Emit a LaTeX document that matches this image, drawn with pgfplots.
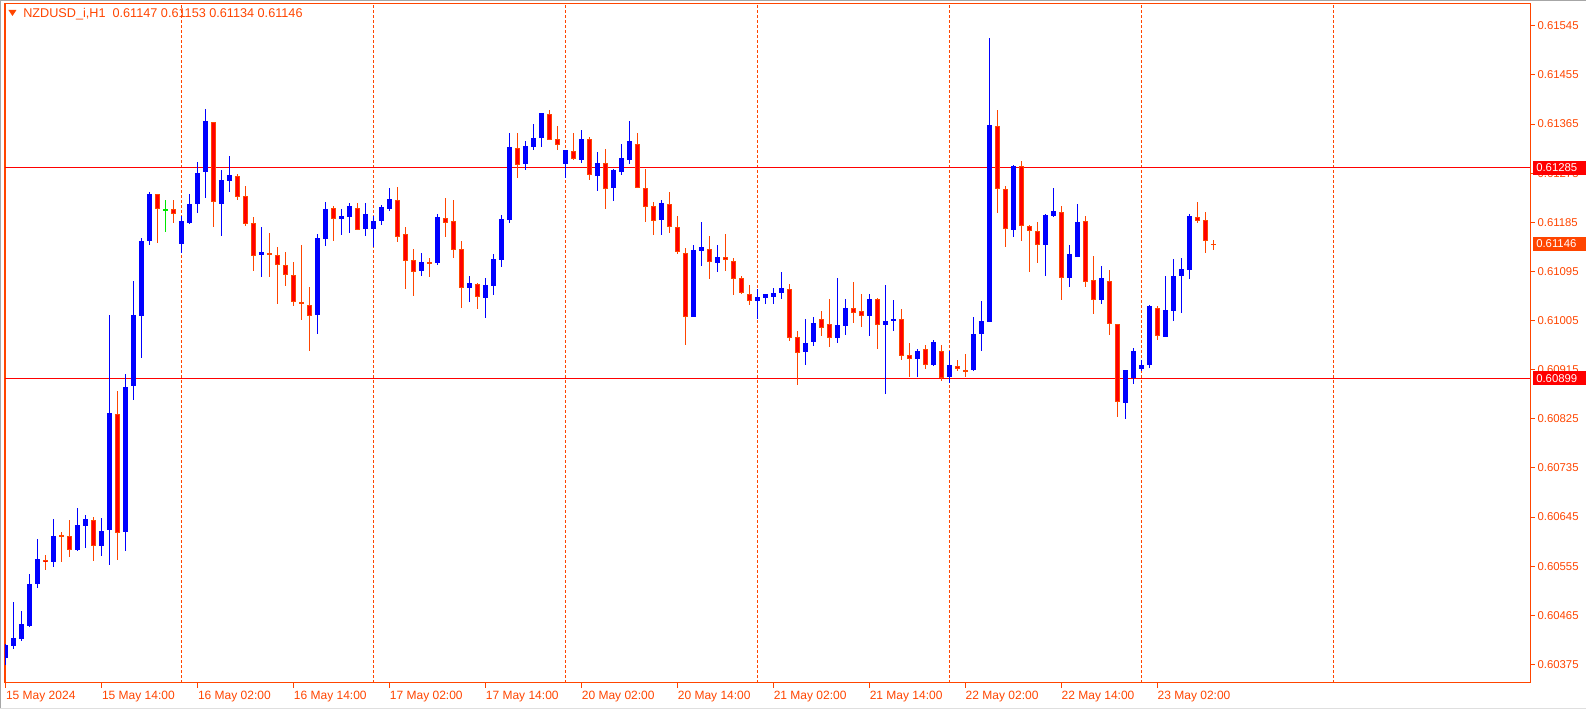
\documentclass[border=0pt]{standalone}
\usepackage{fontspec}
\setmainfont{Liberation Sans}
\usepackage{pgfplots}
\usepackage{pgfplotstable}
\pgfplotsset{compat=1.18}

\definecolor{orred}{RGB}{255,69,0}
\definecolor{bullc}{RGB}{0,0,255}
\definecolor{bearc}{RGB}{255,0,0}
\definecolor{dojic}{RGB}{0,230,0}

% hourly bars, i = hours since 15 May 02:00 (weekend removed)
\pgfplotstableread{
i O H L C
0 0.60387 0.60414 0.60374 0.60411
1 0.60409 0.60491 0.60404 0.60425
2 0.60422 0.60473 0.60417 0.60449
3 0.60446 0.60541 0.60444 0.60524
4 0.60523 0.60607 0.60516 0.60568
6 0.60564 0.60641 0.60554 0.60612
9 0.60586 0.60662 0.60582 0.60632
10 0.60629 0.60649 0.60589 0.60643
12 0.60593 0.60643 0.60574 0.60621
13 0.60622 0.61015 0.60558 0.60836
15 0.60618 0.60908 0.60585 0.60883
16 0.60886 0.61079 0.60860 0.61015
17 0.61014 0.61156 0.60937 0.61151
18 0.61151 0.61242 0.61144 0.61237
22 0.61146 0.61198 0.61130 0.61187
23 0.61184 0.61237 0.61183 0.61220
24 0.61219 0.61297 0.61203 0.61277
25 0.61278 0.61393 0.61230 0.61372
27 0.61219 0.61281 0.61159 0.61263
28 0.61261 0.61307 0.61241 0.61273
32 0.61126 0.61178 0.61087 0.61131
39 0.61015 0.61163 0.60981 0.61156
40 0.61155 0.61224 0.61142 0.61211
42 0.61192 0.61211 0.61164 0.61197
43 0.61195 0.61221 0.61166 0.61214
45 0.61173 0.61220 0.61159 0.61200
46 0.61173 0.61197 0.61140 0.61189
47 0.61188 0.61217 0.61181 0.61213
48 0.61210 0.61248 0.61206 0.61228
52 0.61096 0.61129 0.61087 0.61112
54 0.61111 0.61200 0.61106 0.61195
58 0.61065 0.61087 0.61040 0.61074
60 0.61047 0.61083 0.61009 0.61070
61 0.61069 0.61127 0.61052 0.61120
62 0.61118 0.61200 0.61104 0.61193
63 0.61190 0.61349 0.61184 0.61323
65 0.61292 0.61336 0.61283 0.61325
66 0.61324 0.61367 0.61319 0.61341
67 0.61340 0.61387 0.61324 0.61385
70 0.61291 0.61317 0.61266 0.61317
72 0.61300 0.61356 0.61294 0.61338
74 0.61270 0.61314 0.61243 0.61294
76 0.61247 0.61284 0.61225 0.61281
77 0.61278 0.61330 0.61274 0.61303
78 0.61300 0.61371 0.61292 0.61335
82 0.61190 0.61226 0.61162 0.61220
86 0.61013 0.61143 0.61013 0.61135
87 0.61134 0.61187 0.61106 0.61140
89 0.61112 0.61145 0.61096 0.61123
94 0.61041 0.61064 0.61009 0.61048
95 0.61047 0.61054 0.61036 0.61054
96 0.61050 0.61066 0.61036 0.61056
97 0.61056 0.61094 0.61045 0.61065
100 0.60948 0.61010 0.60925 0.60965
101 0.60966 0.61013 0.60959 0.61002
104 0.60974 0.61085 0.60966 0.60997
105 0.60997 0.61046 0.60980 0.61030
108 0.61015 0.61054 0.60977 0.61045
110 0.60997 0.61072 0.60872 0.61004
111 0.61005 0.61045 0.60988 0.61010
114 0.60935 0.60953 0.60902 0.60951
116 0.60924 0.60969 0.60922 0.60966
118 0.60902 0.60951 0.60891 0.60924
121 0.60916 0.61012 0.60913 0.60982
122 0.60981 0.61041 0.60950 0.61005
123 0.61004 0.61523 0.61002 0.61365
126 0.61173 0.61290 0.61159 0.61290
130 0.61142 0.61200 0.61087 0.61197
131 0.61197 0.61248 0.61195 0.61206
133 0.61084 0.61145 0.61068 0.61127
134 0.61122 0.61219 0.61122 0.61186
137 0.61043 0.61107 0.61036 0.61083
140 0.60855 0.60914 0.60825 0.60914
141 0.60899 0.60957 0.60890 0.60949
142 0.60919 0.60933 0.60913 0.60925
143 0.60924 0.61034 0.60919 0.61032
145 0.60977 0.61088 0.60976 0.61026
146 0.61024 0.61118 0.61006 0.61088
147 0.61087 0.61121 0.61019 0.61101
148 0.61099 0.61200 0.61081 0.61197
}\bull

\pgfplotstableread{
i O H L C
5 0.60567 0.60577 0.60549 0.60563
7 0.60612 0.60617 0.60563 0.60611
8 0.60611 0.60641 0.60574 0.60586
11 0.60641 0.60645 0.60565 0.60593
14 0.60835 0.60876 0.60567 0.60617
19 0.61238 0.61238 0.61148 0.61209
21 0.61211 0.61226 0.61184 0.61201
26 0.61370 0.61370 0.61177 0.61223
29 0.61271 0.61274 0.61226 0.61232
30 0.61234 0.61252 0.61180 0.61183
31 0.61185 0.61195 0.61096 0.61125
33 0.61128 0.61167 0.61085 0.61126
34 0.61126 0.61140 0.61036 0.61108
35 0.61108 0.61131 0.61069 0.61090
36 0.61090 0.61112 0.61032 0.61041
37 0.61040 0.61145 0.61007 0.61037
38 0.61035 0.61067 0.60951 0.61015
41 0.61211 0.61214 0.61150 0.61192
44 0.61211 0.61221 0.61171 0.61171
49 0.61227 0.61251 0.61150 0.61159
50 0.61163 0.61176 0.61063 0.61115
51 0.61117 0.61136 0.61051 0.61096
53 0.61114 0.61120 0.61085 0.61111
55 0.61193 0.61231 0.61159 0.61185
56 0.61187 0.61226 0.61120 0.61134
57 0.61137 0.61151 0.61029 0.61066
59 0.61072 0.61074 0.61027 0.61049
64 0.61322 0.61349 0.61267 0.61291
68 0.61385 0.61392 0.61336 0.61338
69 0.61339 0.61361 0.61317 0.61328
71 0.61317 0.61349 0.61299 0.61302
73 0.61339 0.61343 0.61263 0.61272
75 0.61294 0.61319 0.61210 0.61247
79 0.61330 0.61350 0.61248 0.61248
80 0.61249 0.61283 0.61186 0.61214
81 0.61216 0.61224 0.61162 0.61189
83 0.61218 0.61242 0.61166 0.61176
84 0.61176 0.61197 0.61128 0.61130
85 0.61130 0.61138 0.60960 0.61013
88 0.61137 0.61160 0.61082 0.61112
90 0.61123 0.61164 0.61096 0.61117
91 0.61116 0.61121 0.61052 0.61082
92 0.61083 0.61087 0.61054 0.61055
93 0.61054 0.61070 0.61034 0.61041
98 0.61065 0.61072 0.60968 0.60974
99 0.60976 0.60986 0.60888 0.60946
102 0.61008 0.61024 0.60979 0.60992
103 0.60999 0.61045 0.60957 0.60974
106 0.61029 0.61076 0.61001 0.61019
107 0.61023 0.61056 0.60995 0.61014
109 0.61045 0.61046 0.60952 0.60998
112 0.61009 0.61026 0.60933 0.60941
113 0.60941 0.60964 0.60902 0.60935
115 0.60953 0.60960 0.60917 0.60923
117 0.60949 0.60960 0.60895 0.60899
119 0.60923 0.60933 0.60913 0.60917
120 0.60916 0.60944 0.60902 0.60913
124 0.61363 0.61391 0.61203 0.61247
125 0.61247 0.61252 0.61140 0.61173
127 0.61289 0.61299 0.61151 0.61179
128 0.61179 0.61182 0.61095 0.61170
129 0.61170 0.61187 0.61111 0.61143
132 0.61205 0.61215 0.61043 0.61084
135 0.61187 0.61197 0.61067 0.61076
136 0.61081 0.61125 0.61018 0.61044
138 0.61079 0.61098 0.60979 0.60999
139 0.61000 0.61000 0.60829 0.60857
144 0.61030 0.61033 0.60970 0.60979
149 0.61194 0.61223 0.61183 0.61188
150 0.61189 0.61204 0.61129 0.61150
151 0.61147 0.61153 0.61134 0.61146
}\bear

\pgfplotstableread{
i O H L C
20 0.61209 0.61226 0.61168 0.61209
}\doji

% candles are drawn as error bars: wick = H..L, body = O..C
\pgfplotsset{
  candle/.style 2 args={draw=none, mark=none, error bars/.cd, y dir=both, y explicit,
    error mark=none, error bar style={draw=#1, line width=#2}},
  wick/.style={candle={#1}{0.75pt}},
  body/.style={candle={#1}{3.75pt}},
  inner/.style={candle={#1}{2.25pt}},
}

\begin{document}
\begin{tikzpicture}
\path[use as bounding box] (-3.75pt,-19.5pt) rectangle (1185.75pt,512.25pt);
\draw[gray!70, line width=0.75pt] (-3.4pt,-19.5pt) -- (-3.4pt,511.9pt) -- (1185.75pt,511.9pt);
\draw[gray!25, line width=0.75pt] (-3.75pt,-19.1pt) -- (1185.75pt,-19.1pt);
\begin{axis}[
  at={(0,0)}, anchor=south west,
  scale only axis, width=1143.75pt, height=509.25pt,
  xmin=-0.1, xmax=190.59, ymin=0.603409, ymax=0.61585,
  axis line style={orred, line width=0.75pt},
  tick style={orred, line width=0.75pt},
  tick align=outside, major tick length=3.5pt,
  xtick pos=bottom, ytick pos=right, yticklabel pos=right,
  xtick={0,12,24,36,48,60,72,84,96,108,120,132,144},
  xticklabels={15 May 2024,15 May 14:00,16 May 02:00,16 May 14:00,17 May 02:00,17 May 14:00,20 May 02:00,20 May 14:00,21 May 02:00,21 May 14:00,22 May 02:00,22 May 14:00,23 May 02:00},
  ytick={0.60375,0.60465,0.60555,0.60645,0.60735,0.60825,0.60915,0.61005,0.61095,0.61185,0.61275,0.61365,0.61455,0.61545},
  yticklabels={0.60375,0.60465,0.60555,0.60645,0.60735,0.60825,0.60915,0.61005,0.61095,0.61185,0.61275,0.61365,0.61455,0.61545},
  ticklabel style={font=\fontsize{8.5}{10}\selectfont, text=orred},
  xticklabel style={anchor=north west, inner sep=0pt, yshift=-2.5pt, font=\fontsize{9}{10}\selectfont},
  yticklabel style={anchor=west, inner sep=0pt, xshift=2pt},
  extra x ticks={22,46,70,94,118,142,166},
  extra x tick labels={,,,,,,},
  extra x tick style={grid=major, major tick length=0pt,
    major grid style={orred, line width=0.75pt, dash pattern=on 2.25pt off 1.5pt}},
  extra y ticks={0.61285,0.60899},
  extra y tick labels={,},
  extra y tick style={grid=major, major tick length=0pt,
    major grid style={bearc, line width=0.75pt}},
]
% bull candles
\addplot[wick=bullc] table[x=i, y expr={(\thisrow{H}+\thisrow{L})/2}, y error expr={(\thisrow{H}-\thisrow{L})/2}] {\bull};
\addplot[body=bullc] table[x=i, y expr={(\thisrow{O}+\thisrow{C})/2}, y error expr={max(abs(\thisrow{O}-\thisrow{C})/2,0.0000092)}] {\bull};
% bear candles
\addplot[wick=orred] table[x=i, y expr={(\thisrow{H}+\thisrow{L})/2}, y error expr={(\thisrow{H}-\thisrow{L})/2}] {\bear};
\addplot[body=orred] table[x=i, y expr={(\thisrow{O}+\thisrow{C})/2}, y error expr={max(abs(\thisrow{O}-\thisrow{C})/2,0.0000092)}] {\bear};
\addplot[inner=bearc] table[x=i, y expr={(\thisrow{O}+\thisrow{C})/2}, y error expr={max(abs(\thisrow{O}-\thisrow{C})/2-0.0000183,0)}] {\bear};
% doji
\addplot[wick=dojic] table[x=i, y expr={(\thisrow{H}+\thisrow{L})/2}, y error expr={(\thisrow{H}-\thisrow{L})/2}] {\doji};
\addplot[body=dojic] table[x=i, y expr={(\thisrow{O}+\thisrow{C})/2}, y error expr={max(abs(\thisrow{O}-\thisrow{C})/2,0.0000092)}] {\doji};

\coordinate (l1) at (axis cs:190.59,0.61285);
\coordinate (l2) at (axis cs:190.59,0.60899);
\coordinate (l3) at (axis cs:190.59,0.61146);
\coordinate (hd) at (rel axis cs:0,1);
\end{axis}
\tikzset{plab/.style={anchor=west, text=white, font=\fontsize{8.5}{10}\selectfont,
  inner xsep=2.25pt, inner ysep=0pt, minimum height=10.5pt, text width=35pt,
  align=left, xshift=2.25pt}}
\node[plab, fill=bearc] at (l1) {0.61285};
\node[plab, fill=bearc] at (l2) {0.60899};
\node[plab, fill=orred] at (l3) {0.61146};
\fill[orred] ([shift={(2.6pt,-4.5pt)}]hd) -- ++(6pt,0) -- ++(-3pt,-4.5pt) -- cycle;
\node[anchor=west, inner sep=0pt, text=orred, font=\fontsize{9.5}{10}\selectfont]
  at ([shift={(13.5pt,-7.5pt)}]hd) {NZDUSD\_i,H1\ \ 0.61147 0.61153 0.61134 0.61146};
\end{tikzpicture}
\end{document}
